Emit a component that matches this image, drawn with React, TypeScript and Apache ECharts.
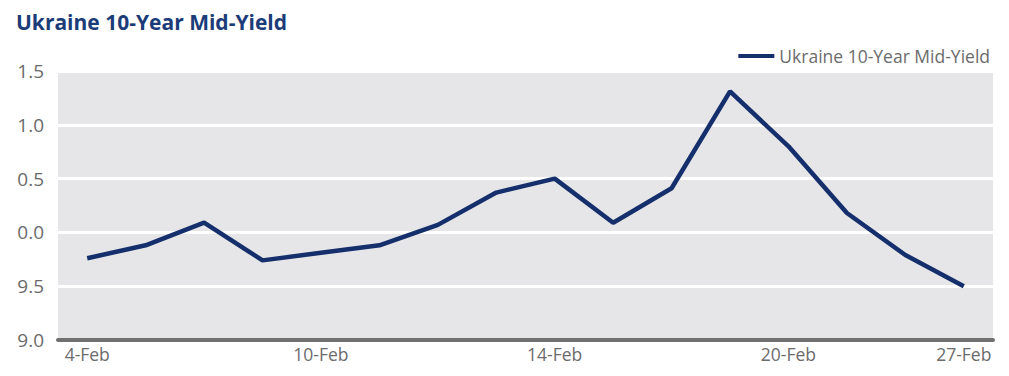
import React, { useEffect, useRef } from "react";
import * as echarts from "echarts";

const categories = ["4-Feb","5-Feb","6-Feb","7-Feb","10-Feb","11-Feb","12-Feb","13-Feb","14-Feb","15-Feb","18-Feb","19-Feb","20-Feb","21-Feb","22-Feb","27-Feb"];
const yields = [9.76, 9.88, 10.09, 9.74, 9.81, 9.88, 10.07, 10.37, 10.5, 10.09, 10.41, 11.31, 10.8, 10.18, 9.79, 9.5];
const labeledIdx = [0, 4, 8, 12, 15];
const seriesName = "Ukraine 10-Year Mid-Yield";

export default function App() {
  const ref = useRef<HTMLDivElement>(null);
  useEffect(() => {
    const chart = echarts.init(ref.current!, null, { renderer: "svg" });
    const font = "'Open Sans', 'Noto Sans', sans-serif";
    chart.setOption({
      animation: false,
      title: {
        text: "Ukraine 10-Year Mid-Yield",
        left: 3,
        top: -2,
        textStyle: { color: "#1b3c78", fontSize: 21, fontWeight: "bold", fontFamily: font },
      },
      legend: {
        right: 14,
        top: 34,
        itemWidth: 36,
        itemHeight: 4,
        itemGap: 8,
        icon: "rect",
        data: [{ name: seriesName }],
        textStyle: { color: "#6b6b6b", fontSize: 17.5, fontFamily: font },
      },
      grid: {
        left: 50,
        right: 16,
        top: 63,
        bottom: 36,
        show: true,
        backgroundColor: "#e6e6e8",
        borderWidth: 0,
      },
      xAxis: {
        type: "category",
        data: categories,
        boundaryGap: true,
        axisLine: { lineStyle: { color: "#707070", width: 4 } },
        axisTick: {
          inside: true,
          length: 6,
          alignWithLabel: true,
          lineStyle: { color: "#707070", width: 3 },
          interval: (i: number) => labeledIdx.includes(i),
        },
        axisLabel: {
          interval: (i: number) => labeledIdx.includes(i),
          color: "#6b6b6b",
          fontSize: 17.5,
          fontFamily: font,
          margin: 5,
        },
        splitLine: { show: false },
      },
      yAxis: {
        type: "value",
        min: 9,
        max: 11.5,
        interval: 0.5,
        axisLine: { show: false },
        axisTick: { show: false },
        axisLabel: {
          color: "#6b6b6b",
          fontSize: 19,
          fontFamily: font,
          margin: 14,
          formatter: (v: number) => (v >= 10 ? (v - 10).toFixed(1) : v.toFixed(1)),
        },
        splitLine: { lineStyle: { color: "#ffffff", width: 3 } },
      },
      series: [
        {
          name: seriesName,
          type: "line",
          data: yields,
          symbol: "none",
          lineStyle: { color: "#142f6b", width: 4.5 },
          itemStyle: { color: "#142f6b" },
        },
      ],
    });
    return () => chart.dispose();
  }, []);
  return <div ref={ref} style={{ width: 1001, height: 368 }} />;
}
